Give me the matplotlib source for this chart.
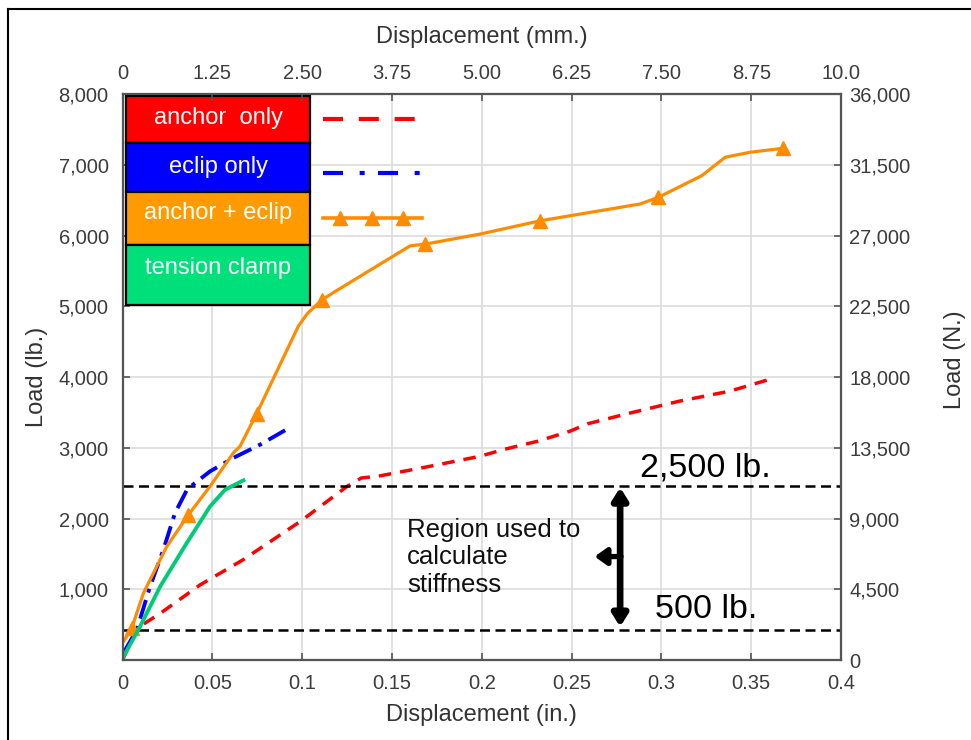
import numpy as np, matplotlib; matplotlib.use("Agg")
import matplotlib.pyplot as plt
from matplotlib.patches import Rectangle
plt.rcParams['font.family']=['Liberation Sans','DejaVu Sans']

# load (lb) vs displacement (in)
anc_x=[0,0.008,0.021,0.043,0.067,0.099,0.125,0.133,0.142,0.171,0.199,0.212,0.231,0.249,0.259,0.283,0.310,0.338,0.360]
anc_y=[0,450,660,1060,1416,1960,2455,2574,2597,2738,2880,2975,3092,3234,3340,3494,3659,3800,3966]
ecl_x=[0.0004,0.0079,0.0153,0.0227,0.0292,0.0361,0.0487,0.0617,0.0766,0.0905]
ecl_y=[95,425,1038,1558,2078,2418,2667,2857,3045,3248]
ae_x=[0,0.0051,0.0116,0.0246,0.0367,0.0487,0.0617,0.0654,0.0747,0.0979,0.103,0.111,0.1174,0.1601,0.1684,0.199,0.2325,0.2881,0.2983,0.3225,0.3355,0.3494,0.3679]
ae_y=[240,449,945,1605,2054,2455,2928,3021,3484,4721,4900,5090,5194,5854,5878,6020,6208,6445,6540,6846,7106,7177,7233]
ae_marks=[1,4,8,11,14,16,18,22]
tc_x=[0,0.0097,0.0209,0.0357,0.0487,0.0571,0.0673]
tc_y=[24,472,1038,1653,2171,2408,2540]
upper_lim,lower_lim=2455,425
labels=["anchor  only","eclip only","anchor + eclip","tension clamp"]
box_cols=['#ff0000','#0000ff','#ff9a00','#00e07a']
mm_ticks=[0,1.25,2.5,3.75,5,6.25,7.5,8.75,10]
mm_labels=['0','1.25','2.50','3.75','5.00','6.25','7.50','8.75','10.0']
in_ticks=[0,0.05,0.1,0.15,0.2,0.25,0.3,0.35,0.4]
in_labels=['0','0.05','0.1','0.15','0.2','0.25','0.3','0.35','0.4']
lb_ticks=[1000,2000,3000,4000,5000,6000,7000,8000]
n_ticks=list(range(0,36001,4500))

fig=plt.figure(figsize=(9.71,7.40),dpi=100)
ax=fig.add_axes([0.1262,0.108,0.740,0.765])
ax.set_xlim(0,0.4);ax.set_ylim(0,8000)
ax.grid(True,color='#dcdcdc',lw=1.2);ax.set_axisbelow(True)
ax.plot(anc_x,anc_y,color='#ff0000',lw=2.5,dashes=(3.6,2.6),zorder=3)
ax.plot(ecl_x,ecl_y,color='#0000ff',lw=2.8,dashes=(5,2,1,2),zorder=4)
ax.plot(ae_x,ae_y,color='#ff8c00',lw=2.3,marker='^',ms=10,markevery=ae_marks,zorder=5)
ax.plot(tc_x,tc_y,color='#00cc77',lw=2.8,zorder=6)
for yv in (upper_lim,lower_lim):
    ax.axhline(yv,color='black',lw=1.8,dashes=(4,2.2),zorder=3)

# annotation
ax.annotate('',xy=(0.277,2440),xytext=(0.277,470),arrowprops=dict(arrowstyle='<|-|>,head_length=0.35,head_width=0.22',lw=4.8,color='black',shrinkA=0,shrinkB=0,mutation_scale=20))
ax.annotate('',xy=(0.2628,1463),xytext=(0.2775,1463),arrowprops=dict(arrowstyle='-|>,head_length=0.35,head_width=0.25',lw=3.8,color='black',shrinkA=0,shrinkB=0,mutation_scale=20))
ax.text(0.1584,1450,"Region used to\ncalculate\nstiffness",fontsize=18.5,va='center',ha='left',color='#111111')
ax.text(0.2881,2600,"2,500 lb.",fontsize=24.5,va='baseline',ha='left')
ax.text(0.2965,590,"500 lb.",fontsize=24.5,va='baseline',ha='left')

# legend table
rows=[0.9965,0.913,0.827,0.733,0.627]
txt_y=[0.9576,0.8716,0.7898,0.6926]
for i in range(4):
    ax.add_patch(Rectangle((0.0049,rows[i+1]),0.2561,rows[i]-rows[i+1],transform=ax.transAxes,facecolor=box_cols[i],edgecolor='black',lw=1.6,zorder=8,clip_on=False))
    ax.text(0.133,txt_y[i],labels[i],transform=ax.transAxes,color='white',fontsize=17,ha='center',va='center',zorder=9)
ax.plot([0.2786,0.407],[0.9564,0.9564],transform=ax.transAxes,color='#ff0000',lw=3,dashes=(4.8,3.8),clip_on=False,zorder=8)
ax.plot([0.2786,0.4134],[0.861,0.861],transform=ax.transAxes,color='#0000ff',lw=3,dashes=(4.8,4,1.2,3.2),clip_on=False,zorder=8)
ax.plot([0.2786,0.4162],[0.781,0.781],transform=ax.transAxes,color='#ff8c00',lw=2.6,clip_on=False,zorder=8)
ax.plot([0.3027,0.3468,0.3909],[0.781]*3,transform=ax.transAxes,color='#ff8c00',ls='none',marker='^',ms=10,clip_on=False,zorder=8)

axt=ax.twiny();axr=ax.twinx()
axt.set_xlim(0,10);axr.set_ylim(0,36000)
ax.set_xticks(in_ticks);ax.set_xticklabels(in_labels)
ax.set_yticks(lb_ticks);ax.set_yticklabels(['{:,}'.format(v) for v in lb_ticks])
axt.set_xticks(mm_ticks);axt.set_xticklabels(mm_labels)
axr.set_yticks(n_ticks);axr.set_yticklabels(['{:,}'.format(v) for v in n_ticks])
for a in (ax,axt,axr):
    for s in a.spines.values():s.set_color('#555555');s.set_linewidth(1.5)
kw=dict(direction='in',length=5,width=1.2,color='#555555',labelcolor='#3c3c3c',labelsize=14.5)
ax.tick_params(axis='x',pad=10,**kw);ax.tick_params(axis='y',pad=10,**kw)
axt.tick_params(axis='x',pad=8,**kw);axr.tick_params(axis='y',pad=6,**kw)

lk=dict(fontsize=17,color='#333333')
ax.set_xlabel("Displacement (in.)",**lk);ax.xaxis.set_label_coords(0.5,-0.097);ax.xaxis.label.set_va('center')
ax.set_ylabel("Load (lb.)",**lk);ax.yaxis.set_label_coords(-0.119,0.5);ax.yaxis.label.set_va('center')
axt.set_xlabel("Displacement (mm.)",**lk);axt.xaxis.set_label_coords(0.5,1.1007);axt.xaxis.label.set_va('center')
axr.set_ylabel("Load (N.)",**lk);axr.yaxis.set_label_coords(1.1587,0.53);axr.yaxis.label.set_va('center')

# frame of the original figure
fig.add_artist(plt.Line2D([8/971,8/971],[0,1-9/740],transform=fig.transFigure,color='black',lw=1.5))
fig.add_artist(plt.Line2D([8/971,1],[1-9/740,1-9/740],transform=fig.transFigure,color='black',lw=1.5))
fig.savefig("out.png",dpi=100)
